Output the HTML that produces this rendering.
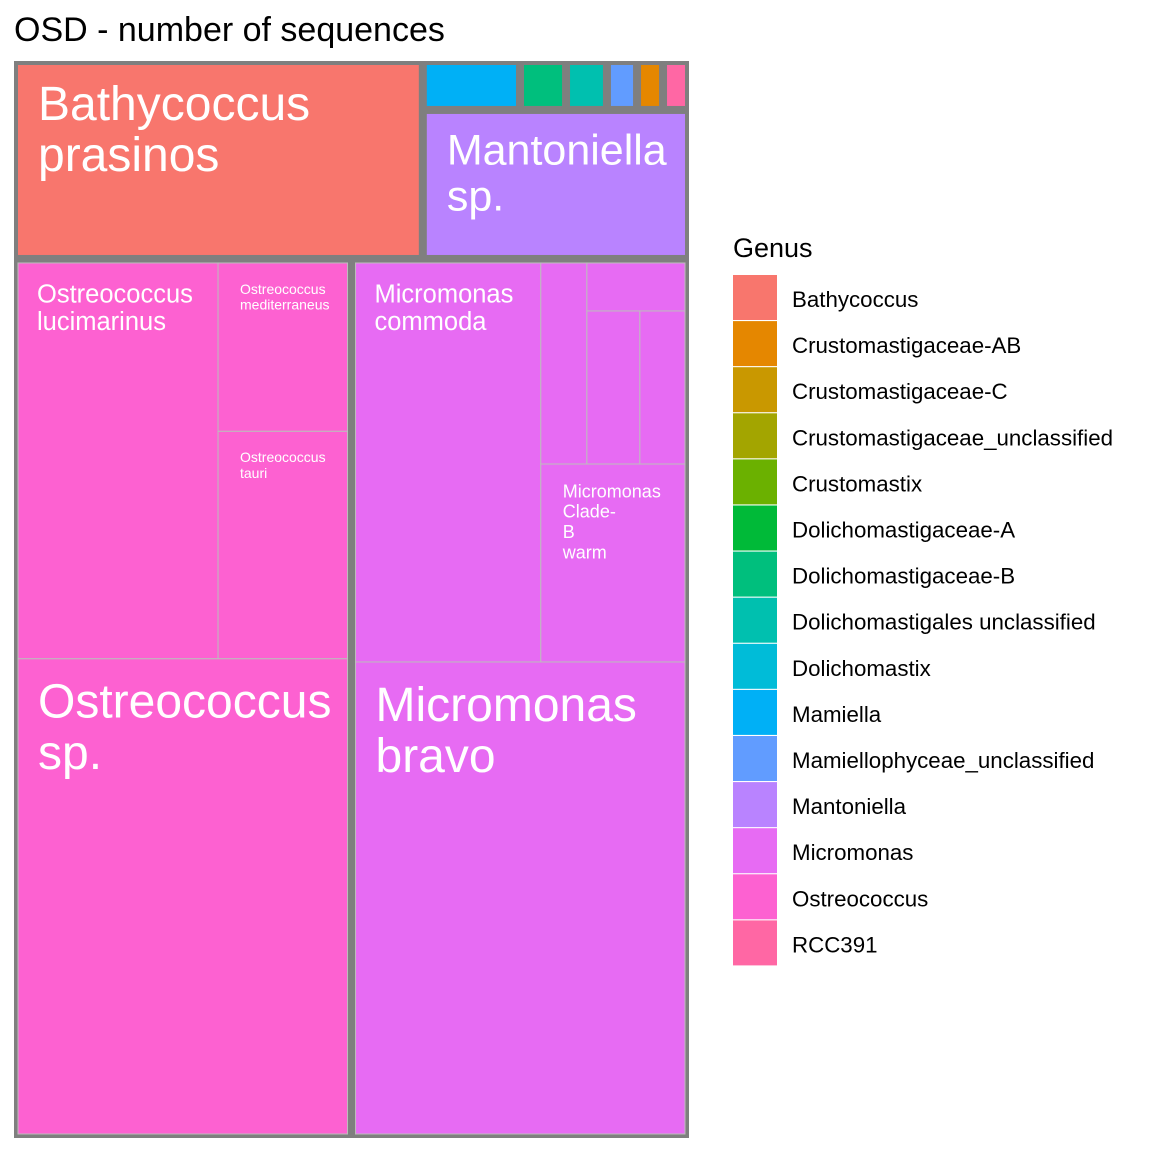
<!DOCTYPE html>
<html><head><meta charset="utf-8">
<style>
html,body{margin:0;padding:0;background:#fff;}
body{width:1152px;height:1152px;overflow:hidden;font-family:"Liberation Sans",Arial,sans-serif;}
text{font-family:"Liberation Sans",Arial,sans-serif;}
</style></head>
<body>
<svg id="chart" width="1152" height="1152" viewBox="0 0 1152 1152" xmlns="http://www.w3.org/2000/svg">
<text x="14" y="41" font-size="34" fill="#000">OSD - number of sequences</text>
<rect x="14" y="61" width="675" height="1077" fill="#7f7f7f"/>
<g id="tiles"></g>
<g id="legend">
<text x="733" y="257" font-size="27" fill="#000">Genus</text>
</g>
</svg>
<script>
// Legend data
const genera = ["Bathycoccus","Crustomastigaceae-AB","Crustomastigaceae-C","Crustomastigaceae_unclassified","Crustomastix","Dolichomastigaceae-A","Dolichomastigaceae-B","Dolichomastigales unclassified","Dolichomastix","Mamiella","Mamiellophyceae_unclassified","Mantoniella","Micromonas","Ostreococcus","RCC391"];
const genusColors = ["#F8766D","#E58700","#C99800","#A3A500","#6BB100","#00BA38","#00BF7D","#00C0AF","#00BCD8","#00B0F6","#619CFF","#B983FF","#E76BF3","#FD61D1","#FF67A4"];

// Species (leaf) data: name, genus, number of sequences (relative)
const speciesNames = ["Bathycoccus prasinos","Mamiella sp.","Dolichomastigaceae-B sp.","Dolichomastigales unclassified sp.","Mamiellophyceae_unclassified sp.","Crustomastigaceae-AB sp.","RCC391 sp.","Mantoniella sp.","Ostreococcus lucimarinus","Ostreococcus mediterraneus","Ostreococcus tauri","Ostreococcus sp.","Micromonas commoda","Micromonas sp1","Micromonas sp2","Micromonas sp3","Micromonas sp4","Micromonas Clade-B warm","Micromonas bravo"];
const speciesGenus = ["Bathycoccus","Mamiella","Dolichomastigaceae-B","Dolichomastigales unclassified","Mamiellophyceae_unclassified","Crustomastigaceae-AB","RCC391","Mantoniella","Ostreococcus","Ostreococcus","Ostreococcus","Ostreococcus","Micromonas","Micromonas","Micromonas","Micromonas","Micromonas","Micromonas","Micromonas"];
const speciesValues = [80800,4750,2250,2000,1470,1270,1270,39600,81700,22500,30400,161600,76300,9560,4860,8370,7130,29460,160500];
const speciesLabels = [["Bathycoccus","prasinos"],[],[],[],[],[],[],["Mantoniella","sp."],["Ostreococcus","lucimarinus"],["Ostreococcus","mediterraneus"],["Ostreococcus","tauri"],["Ostreococcus","sp."],["Micromonas","commoda"],[],[],[],[],["Micromonas","Clade-","B","warm"],["Micromonas","bravo"]];
const labelSizes = [48,0,0,0,0,0,0,43,25.5,14,14,48,25.5,0,0,0,0,18,48];

const NS="http://www.w3.org/2000/svg";
const colorOf = g => genusColors[genera.indexOf(g)];
const tree = {dir:"v",children:[
  {dir:"h",children:[
    {genus:true,leaf:0},
    {dir:"v",children:[
      {dir:"h",children:[{genus:true,leaf:1},{genus:true,leaf:2},{genus:true,leaf:3},{genus:true,leaf:4},{genus:true,leaf:5},{genus:true,leaf:6}]},
      {genus:true,leaf:7}
    ]}
  ]},
  {dir:"h",children:[
    {genus:true,dir:"v",children:[
      {dir:"h",children:[{leaf:8},{dir:"v",children:[{leaf:9},{leaf:10}]}]},
      {leaf:11}
    ]},
    {genus:true,dir:"v",children:[
      {dir:"h",children:[{leaf:12},{dir:"v",children:[
        {dir:"h",children:[{leaf:13},{dir:"v",children:[{leaf:14},{dir:"h",children:[{leaf:15},{leaf:16}]}]}]},
        {leaf:17}
      ]}]},
      {leaf:18}
    ]}
  ]}
]};
function total(n){ return n.leaf!==undefined ? speciesValues[n.leaf] : n.children.reduce((s,c)=>s+total(c),0); }
const tiles=document.getElementById("tiles");
function drawLeaf(i,x,y,w,h,genusLevel){
  const r=document.createElementNS(NS,"rect");
  r.setAttribute("x",x);r.setAttribute("y",y);r.setAttribute("width",Math.max(0,w));r.setAttribute("height",Math.max(0,h));
  r.setAttribute("fill",colorOf(speciesGenus[i]));
  if(!genusLevel){r.setAttribute("stroke","#bdbdbd");r.setAttribute("stroke-width","1");}
  
  
  tiles.appendChild(r);
  const lines=speciesLabels[i], fs=labelSizes[i];
  if(lines.length){
    const t=document.createElementNS(NS,"text");
    t.setAttribute("fill","#fff");t.setAttribute("font-size",fs);
    const padX = fs>=40?20:(fs>=20?19:22);
    const padY = fs<16?19:(genusLevel?14:18);
    lines.forEach((ln,k)=>{
      const s=document.createElementNS(NS,"tspan");
      s.setAttribute("x",x+padX);
      s.setAttribute("y",y+padY+fs*0.85+k*fs*(fs>=20?1.07:1.13));
      s.textContent=ln;t.appendChild(s);
    });
    
    
    tiles.appendChild(t);
  }
}
function layout(n,x,y,w,h,inGenus){
  if(n.genus && !inGenus){ x+=4;y+=4;w-=8;h-=8; }
  const genusLevel = n.genus && n.leaf!==undefined;
  if(n.leaf!==undefined){ drawLeaf(n.leaf,x,y,w,h,genusLevel); return; }
  const T=total(n); let off=0;
  const inside = inGenus || !!n.genus;
  n.children.forEach(c=>{
    const f=total(c)/T;
    if(n.dir==="h"){ layout(c,x+off,y,w*f,h,inside); off+=w*f; }
    else { layout(c,x,y+off,w,h*f,inside); off+=h*f; }
  });
}
layout(tree,14,61,675,1077,false);

const lg=document.getElementById("legend");
genera.forEach((g,i)=>{
  const y=275+i*46.1;
  const r=document.createElementNS(NS,"rect");
  r.setAttribute("x",733);r.setAttribute("y",y);r.setAttribute("width",44);r.setAttribute("height",45);
  r.setAttribute("fill",genusColors[i]);
  
  
  lg.appendChild(r);
  const t=document.createElementNS(NS,"text");
  t.setAttribute("x",792);t.setAttribute("y",y+32);t.setAttribute("font-size","22.3");t.setAttribute("fill","#000");
  t.textContent=g;
  
  
  lg.appendChild(t);
});
</script>
</body></html>
